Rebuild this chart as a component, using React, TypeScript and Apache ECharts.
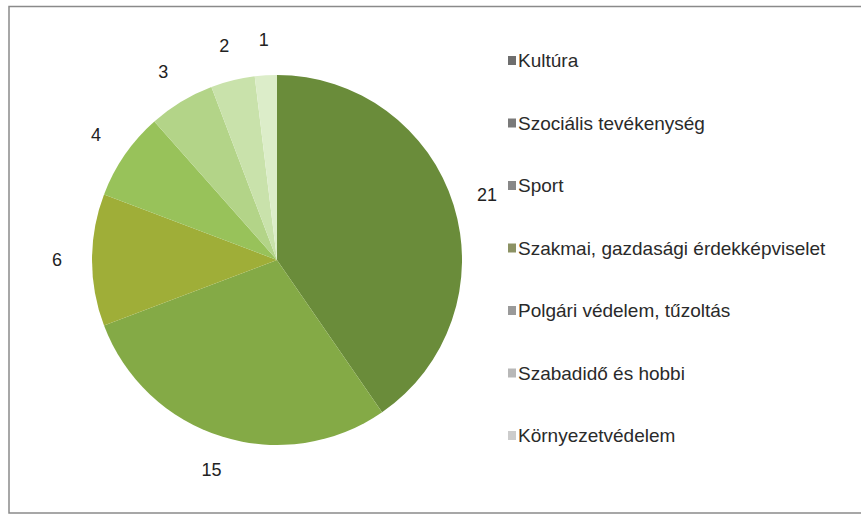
import React, { useEffect, useRef } from "react";
import * as echarts from "echarts";

const categories = [
  "Kultúra",
  "Szociális tevékenység",
  "Sport",
  "Szakmai, gazdasági érdekképviselet",
  "Polgári védelem, tűzoltás",
  "Szabadidő és hobbi",
  "Környezetvédelem",
];
const values = [21, 15, 6, 4, 3, 2, 1];
const sliceColors = ["#6a8c3a", "#84aa46", "#9fae38", "#98c25a", "#b3d488", "#c9e2ab", "#dcedc9"];
const legendColors = ["#6e6e6e", "#7a7a7a", "#888888", "#8c9264", "#9a9a9a", "#b8b8b8", "#cccccc"];

export default function App() {
  const ref = useRef<HTMLDivElement>(null);
  useEffect(() => {
    if (!ref.current) return;
    const chart = echarts.init(ref.current, null, { renderer: "svg" });
    const font = "'Liberation Sans', Arial, sans-serif";
    const center = [277, 260];
    chart.setOption({
      animation: false,
      backgroundColor: "#ffffff",
      textStyle: { fontFamily: font },
      graphic: [
        {
          type: "rect",
          shape: { x: 9, y: 6.5, width: 870, height: 506.5 },
          style: { fill: "none", stroke: "#8a8a8a", lineWidth: 1.5 },
          silent: true,
        },
      ],
      legend: {
        orient: "vertical",
        left: 508,
        top: 51,
        padding: 0,
        itemWidth: 8,
        itemHeight: 9,
        itemGap: 43.5,
        icon: "rect",
        textStyle: {
          fontSize: 19,
          lineHeight: 19,
          color: "#2a2a2a",
          fontFamily: font,
          padding: [0, 0, 0, -3],
        },
        data: categories.map((name, i) => ({ name, itemStyle: { color: legendColors[i] } })),
      },
      series: [
        {
          type: "pie",
          center,
          radius: 185,
          startAngle: 90,
          clockwise: true,
          data: categories.map((name, i) => ({
            name,
            value: values[i],
            itemStyle: { color: sliceColors[i] },
          })),
          label: { show: false },
          labelLine: { show: false },
          itemStyle: { borderWidth: 0 },
          emphasis: { disabled: true },
          silent: true,
        },
        {
          type: "pie",
          center,
          radius: [200, 234],
          startAngle: 90,
          clockwise: true,
          legendHoverLink: false,
          silent: true,
          data: categories.map((name, i) => ({ name, value: values[i] })),
          itemStyle: { color: "rgba(0,0,0,0)", borderWidth: 0 },
          label: {
            show: true,
            position: "inside",
            formatter: "{c}",
            fontSize: 18,
            color: "#222",
            fontFamily: font,
          },
          labelLine: { show: false },
          emphasis: { disabled: true },
        },
      ],
    });
    return () => chart.dispose();
  }, []);
  return (
    <div
      ref={ref}
      style={{ position: "fixed", left: 0, top: 0, width: 861, height: 515 }}
    />
  );
}
